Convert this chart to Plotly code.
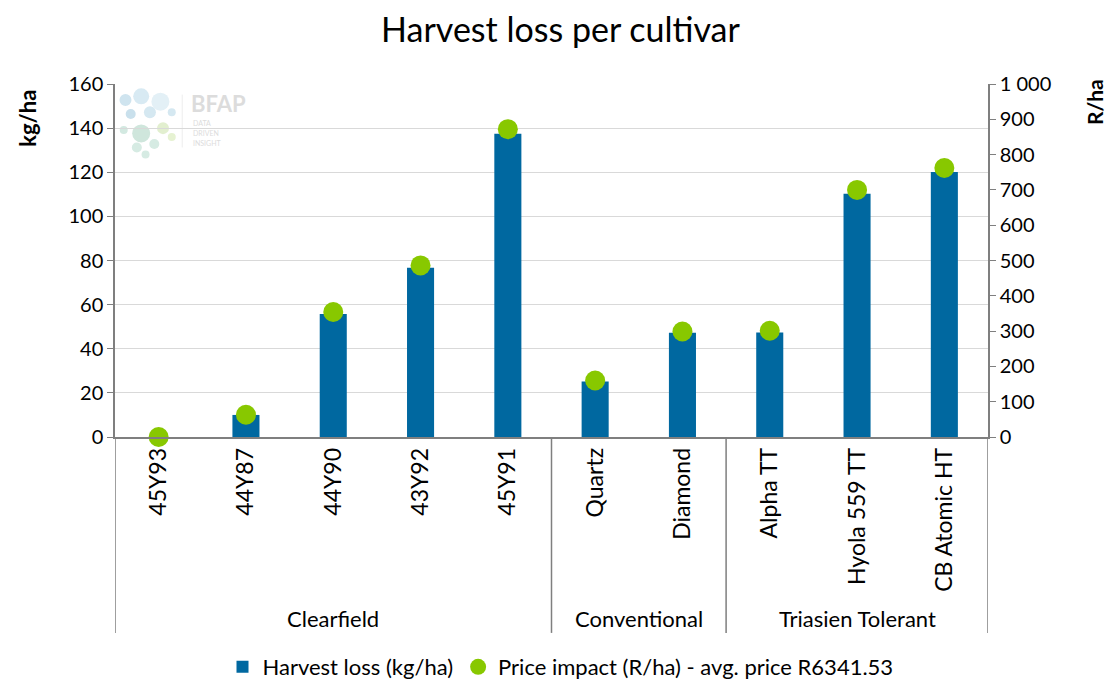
import plotly.graph_objects as go

groups = ["Clearfield"] * 5 + ["Conventional"] * 2 + ["Triasien Tolerant"] * 3
cultivars = ["45Y93", "44Y87", "44Y90", "43Y92", "45Y91", "Quartz", "Diamond",
             "Alpha TT", "Hyola 559 TT", "CB Atomic HT"]
harvest_loss = [0, 10, 55.8, 76.7, 137.5, 25.2, 47.2, 47.4, 110.3, 120.1]
price_impact = [0, 63, 354, 486, 872, 160, 299, 301, 700, 762]

group_names = ["Clearfield", "Conventional", "Triasien Tolerant"]
left_ticks = list(range(0, 161, 20))
right_ticks = list(range(0, 1001, 100))
right_ticktext = ["1 000" if v == 1000 else str(v) for v in right_ticks]

FONT = "Lato"
BLUE = "#0068a0"
GREEN = "#88c800"

# page body has an 8px default margin; figure sized to fill the rest of the window
W, H = 1105, 673

fig = go.Figure()
fig.add_trace(go.Bar(
    x=cultivars, y=harvest_loss, name="Harvest loss (kg/ha)",
    marker=dict(color=BLUE, line=dict(width=0)), width=0.31, yaxis="y",
))
fig.add_trace(go.Scatter(
    x=cultivars, y=price_impact, name="Price impact (R/ha) - avg. price R6341.53",
    mode="markers", marker=dict(color=GREEN, size=20), yaxis="y2", cliponaxis=False,
))

bounds = []
start = 0
for g in group_names:
    n = groups.count(g)
    bounds.append((start, start + n))
    start += n

shapes = []
annotations = []
for (a, b), g in zip(bounds, group_names):
    annotations.append(dict(x=(a + b - 1) / 2, y=-0.513, xref="x", yref="paper",
                            text=g, showarrow=False, font=dict(size=22, color="black", family=FONT),
                            yanchor="middle"))
edges = [-0.5] + [b - 0.5 for a, b in bounds]
for e in edges:
    shapes.append(dict(type="line", xref="x", yref="paper", x0=e, x1=e, y0=0, y1=-0.555,
                       line=dict(color="#7f7f7f", width=1.5)))

# axis titles
annotations.append(dict(x=-0.0997, y=0.904, xref="paper", yref="paper", text="<b>kg/ha</b>",
                        textangle=-90, showarrow=False, font=dict(size=22, family=FONT),
                        xanchor="center", yanchor="middle"))
annotations.append(dict(x=1.1215, y=0.949, xref="paper", yref="paper", text="<b>R/ha</b>",
                        textangle=-90, showarrow=False, font=dict(size=21, family=FONT),
                        xanchor="center", yanchor="middle"))

# watermark
annotations.append(dict(x=0.085, y=0.945, xref="paper", yref="paper", text="<b>BFAP</b>",
                        showarrow=False, font=dict(size=22, color="#dcdcdc", family=FONT),
                        xanchor="left", yanchor="middle"))
for i, word in enumerate(["DATA", "DRIVEN", "INSIGHT"]):
    annotations.append(dict(x=0.087, y=0.889 - i * 0.028, xref="paper", yref="paper",
                            text=word, align="left", showarrow=False,
                            font=dict(size=7, color="#dcdcdc", family=FONT),
                            xanchor="left", yanchor="middle"))
circ = [(0.012, 0.955, 6, "#cfe4ef"), (0.03, 0.965, 8, "#d8eaf3"), (0.052, 0.95, 9, "#e3f0f6"),
        (0.018, 0.915, 5, "#c9e0ec"), (0.04, 0.92, 6, "#d5e8f1"), (0.065, 0.92, 4, "#d5e8f1"),
        (0.01, 0.87, 4, "#d3e9e1"), (0.03, 0.86, 9, "#cfe6dc"), (0.055, 0.875, 6, "#e2efcf"),
        (0.065, 0.85, 4, "#e6f2d2"), (0.025, 0.82, 5, "#d6ebe3"), (0.045, 0.83, 5, "#d6ebe3"),
        (0.035, 0.8, 4, "#d6ebe3")]
for cx, cy, r, c in circ:
    shapes.append(dict(type="circle", xref="paper", yref="paper",
                       x0=cx - r / 873, x1=cx + r / 873, y0=cy - r / 353, y1=cy + r / 353,
                       fillcolor=c, line=dict(width=0), layer="below"))
shapes.append(dict(type="line", xref="paper", yref="paper", x0=0.077, x1=0.077, y0=0.82, y1=0.97,
                   line=dict(color="#eeeeee", width=1), layer="below"))

fig.update_layout(
    width=W, height=H,
    margin=dict(l=107, r=125, t=76, b=244),
    paper_bgcolor="white", plot_bgcolor="white",
    font=dict(family=FONT, size=20, color="black"),
    title=dict(text="Harvest loss per cultivar", x=0.5, xanchor="center",
               y=1 - 22 / H, yanchor="middle", font=dict(size=34, family=FONT, color="black")),
    xaxis=dict(type="category", tickangle=-90, tickfont=dict(size=23),
               showline=True, linecolor="#7f7f7f", linewidth=1.5, ticks="",
               range=[-0.5, 9.5], showgrid=False, automargin=False),
    yaxis=dict(range=[0, 160], tickvals=left_ticks, showgrid=True, gridcolor="#d9d9d9",
               gridwidth=1, showline=True, linecolor="#7f7f7f", linewidth=1.5,
               ticks="outside", ticklen=6, tickcolor="#7f7f7f", zeroline=False,
               automargin=False, tickfont=dict(size=20)),
    yaxis2=dict(range=[0, 1000], overlaying="y", side="right", tickvals=right_ticks,
                ticktext=right_ticktext, showgrid=False, showline=True, linecolor="#7f7f7f",
                linewidth=1.5, ticks="outside", ticklen=6, tickcolor="#7f7f7f", zeroline=False,
                automargin=False, tickfont=dict(size=20)),
    legend=dict(orientation="h", xref="container", yref="container", x=0.5, xanchor="center",
                y=(H - 659) / H, yanchor="middle", font=dict(size=22), itemwidth=30,
                tracegroupgap=0),
    bargap=0.69,
    shapes=shapes, annotations=annotations,
)

fig.write_html("out.html")
